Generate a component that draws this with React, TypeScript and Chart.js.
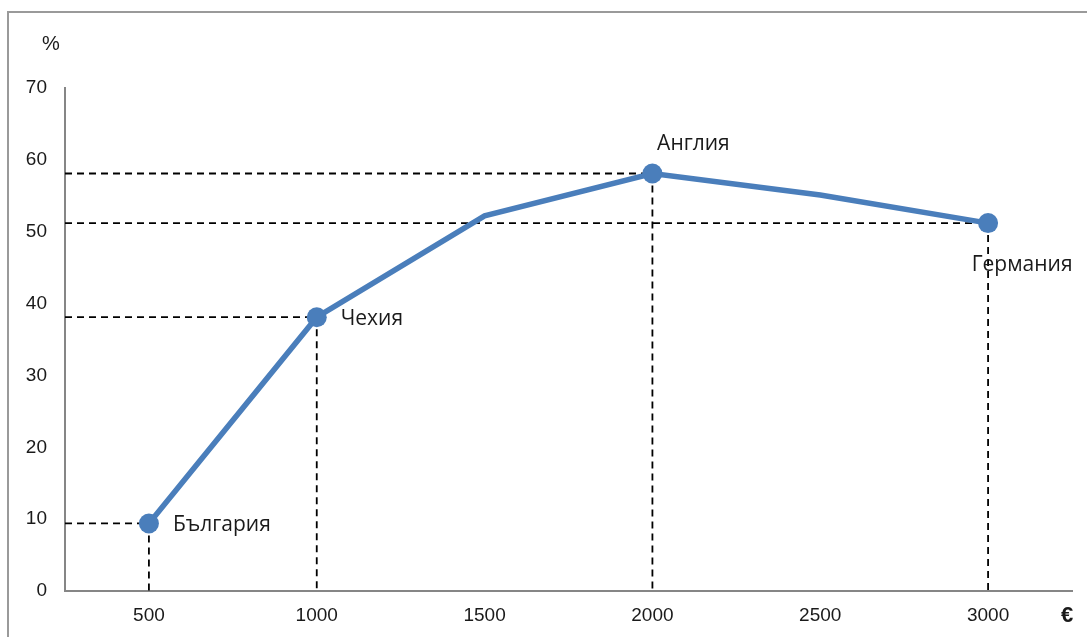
import React, { useEffect, useRef } from 'react';
import { Chart, registerables } from 'chart.js';

Chart.register(...registerables);

const categories = ['500', '1000', '1500', '2000', '2500', '3000'];
const shares = [9.4, 38.1, 52.2, 58.1, 55.1, 51.2];
const marked = [true, true, false, true, false, true];
const pointNames = ['България', 'Чехия', '', 'Англия', '', 'Германия'];
const nameSide = ['right', 'right', '', 'above', '', 'below'];
const yUnit = '%';
const xUnit = '€';

const LINE_COLOR = '#4a7ebb';
const AXIS_COLOR = '#868686';
const TEXT_COLOR = '#1a1a1a';
const TICK_FONT = '"Liberation Sans", Arial, sans-serif';

const overlayPlugin = {
  id: 'overlay',
  beforeDatasetsDraw(chart: any) {
    const { ctx, chartArea, scales } = chart;
    const xs = scales.x;
    const ys = scales.y;
    ctx.save();
    ctx.strokeStyle = '#000';
    ctx.lineWidth = 1.8;
    ctx.setLineDash([7, 5]);
    shares.forEach((v, i) => {
      if (!marked[i]) return;
      const px = xs.getPixelForValue(i);
      const py = ys.getPixelForValue(v);
      ctx.beginPath();
      ctx.moveTo(chartArea.left, py);
      ctx.lineTo(px, py);
      ctx.stroke();
      ctx.beginPath();
      ctx.moveTo(px, py);
      ctx.lineTo(px, chartArea.bottom);
      ctx.stroke();
    });
    ctx.restore();
  },
  afterDraw(chart: any) {
    const { ctx, scales, width, height } = chart;
    const xs = scales.x;
    const ys = scales.y;
    ctx.save();
    ctx.strokeStyle = '#9a9a9a';
    ctx.lineWidth = 2;
    ctx.beginPath();
    ctx.moveTo(8, height + 5);
    ctx.lineTo(8, 12);
    ctx.lineTo(width + 5, 12);
    ctx.stroke();
    ctx.fillStyle = TEXT_COLOR;
    ctx.font = '21px "Open Sans", "Noto Sans", sans-serif';
    ctx.textBaseline = 'middle';
    shares.forEach((v, i) => {
      const name = pointNames[i];
      if (!name) return;
      const px = xs.getPixelForValue(i);
      const py = ys.getPixelForValue(v);
      const side = nameSide[i];
      if (side === 'right') {
        ctx.textAlign = 'left';
        ctx.fillText(name, px + 24, py + 2);
      } else if (side === 'above') {
        ctx.textAlign = 'center';
        ctx.fillText(name, px + 41, py - 29);
      } else if (side === 'below') {
        ctx.textAlign = 'center';
        ctx.fillText(name, px + 34, py + 42);
      }
    });
    ctx.font = '20px ' + TICK_FONT;
    ctx.textAlign = 'center';
    ctx.fillText(yUnit, 51, 44);
    ctx.font = 'bold 22px ' + TICK_FONT;
    ctx.fillText(xUnit, 1067, 616);
    ctx.restore();
  },
};

export default function App() {
  const ref = useRef<HTMLCanvasElement>(null);
  useEffect(() => {
    if (!ref.current) return;
    const chart = new Chart(ref.current, {
      type: 'line',
      data: {
        labels: categories,
        datasets: [
          {
            data: shares,
            borderColor: LINE_COLOR,
            backgroundColor: LINE_COLOR,
            borderWidth: 5.5,
            pointRadius: marked.map((m) => (m ? 10 : 0)),
            pointBackgroundColor: LINE_COLOR,
            pointBorderWidth: 0,
            tension: 0,
          },
        ],
      },
      options: {
        animation: false,
        responsive: true,
        maintainAspectRatio: false,
        layout: { padding: { top: 88, right: 15, left: 0, bottom: 0 } },
        plugins: { legend: { display: false }, tooltip: { enabled: false } },
        scales: {
          x: {
            type: 'category',
            offset: true,
            grid: { display: false, drawTicks: false },
            border: { display: true, color: AXIS_COLOR, width: 2 },
            ticks: {
              color: TEXT_COLOR,
              font: { family: TICK_FONT, size: 19 },
              padding: 13,
              maxRotation: 0,
            },
            afterFit(scale: any) {
              scale.height = 46;
            },
          },
          y: {
            min: 0,
            max: 70,
            grid: { display: false, drawTicks: false },
            border: { display: true, color: AXIS_COLOR, width: 2 },
            ticks: {
              stepSize: 10,
              color: TEXT_COLOR,
              font: { family: TICK_FONT, size: 19 },
              padding: 18,
            },
            afterFit(scale: any) {
              scale.width = 65;
            },
          },
        },
      },
      plugins: [overlayPlugin],
    });
    return () => chart.destroy();
  }, []);
  return (
    <div style={{ position: 'absolute', left: 0, top: 0, width: 1087, height: 637, background: '#fff' }}>
      <canvas ref={ref} />
    </div>
  );
}
